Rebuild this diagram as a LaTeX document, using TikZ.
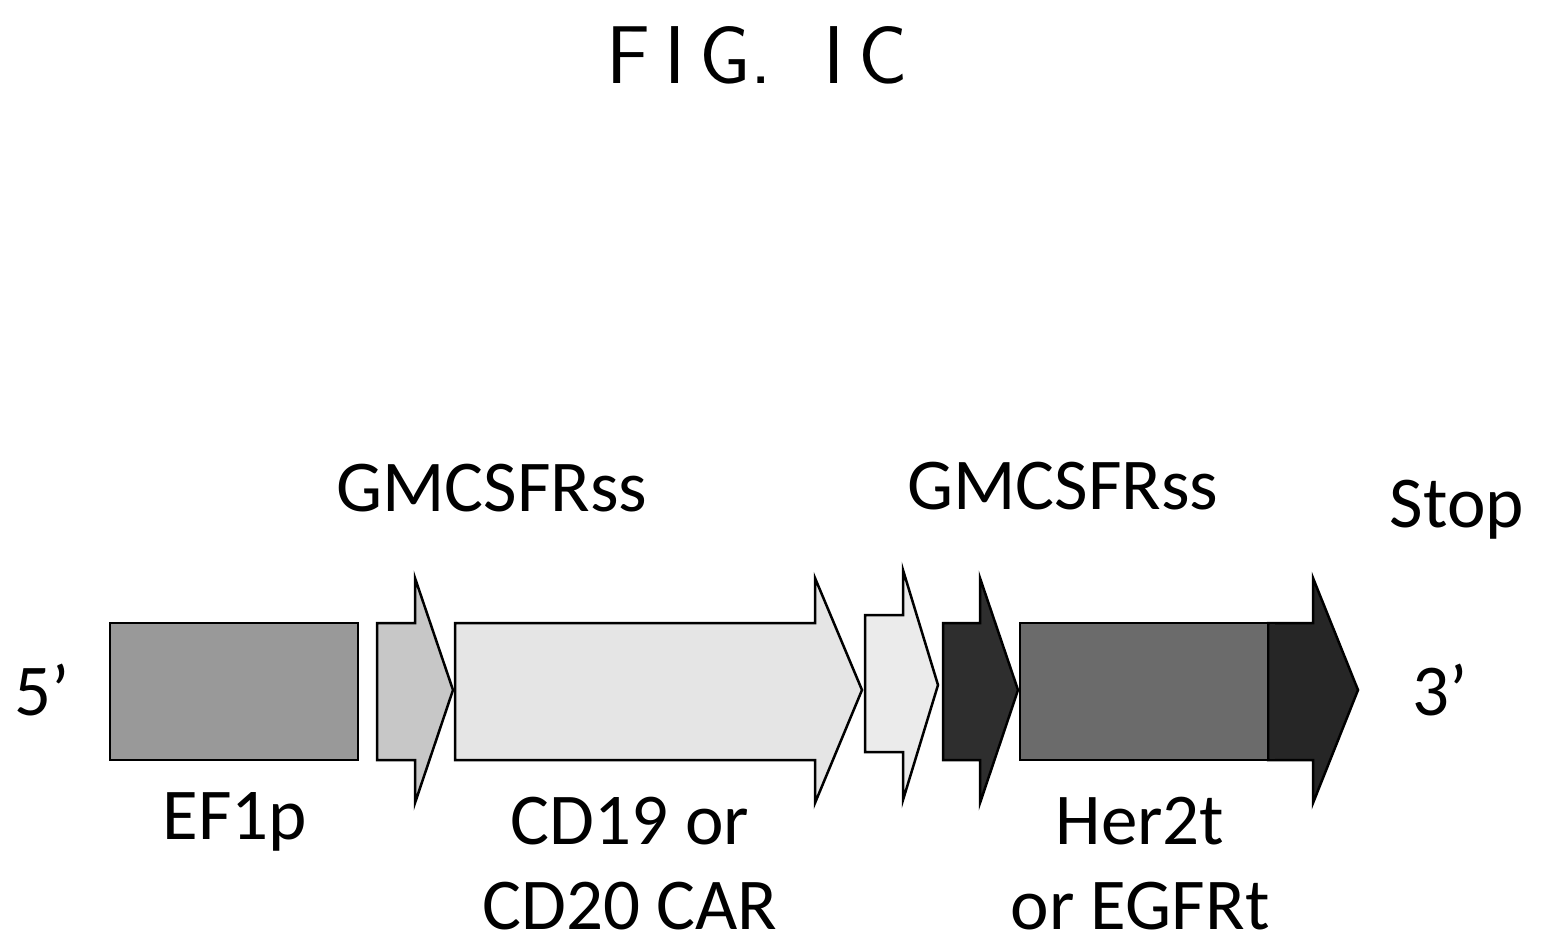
\documentclass[tikz,border=0pt]{standalone}
\usepackage{fontspec}
\setmainfont{Carlito}
\begin{document}
\begin{tikzpicture}[x=1pt,y=-1pt,
  blk/.style={draw=black,line width=2.5pt,line join=miter},
  lab/.style={font=\fontsize{73}{85}\selectfont,inner sep=0pt}]
\useasboundingbox (0,0) rectangle (1542,950);
\node[font=\fontsize{82}{84}\sffamily\selectfont] (fig) at (757,55) {F\,I\,G.\ \ I\,C};
% shapes
\path[blk,fill=black!40] (110,623) rectangle (358,760) coordinate (ef);
\path[blk,fill=black!22] (377,623) -- (415,623) -- (415,578) -- (453,690) -- (415,803) -- (415,760) -- (377,760) -- cycle;
\path[blk,fill=black!10] (455,623) -- (815,623) -- (815,578) -- (862,690) -- (815,803) -- (815,760) -- (455,760) -- cycle;
\path[blk,fill=black!8] (865,615) -- (903,615) -- (903,570) -- (938,685) -- (903,800) -- (903,752) -- (865,752) -- cycle;
\path[blk,fill=black!82] (943,623) -- (980,623) -- (980,578) -- (1018,690) -- (980,803) -- (980,760) -- (943,760) -- cycle;
\path[blk,fill=black!85] (1268,623) -- (1313,623) -- (1313,578) -- (1358,690) -- (1313,803) -- (1313,760) -- (1268,760) -- cycle;
\path[blk,fill=black!58] (1020,623) rectangle (1268,760);
\path[fill=black!85] (1269.5,624.3) rectangle (1275,758.7);
% labels
\node[lab] (p5) at (42,690) {5’};
\node[lab] (p3) at (1440,690) {3’};
\node[lab] (g1) at (492,488) {GMCSFRss};
\node[lab] (g2) at (1063,486) {GMCSFRss};
\node[lab] (stop) at (1457,510) {Stop};
\node[lab] (e) at (235,822) {EF1p};
\node[lab,align=center] (cd) at (630,864) {CD19 or\\CD20 CAR};
\node[lab,align=center] (her) at (1140,864) {Her2t\\or EGFRt};
\end{tikzpicture}
\end{document}
